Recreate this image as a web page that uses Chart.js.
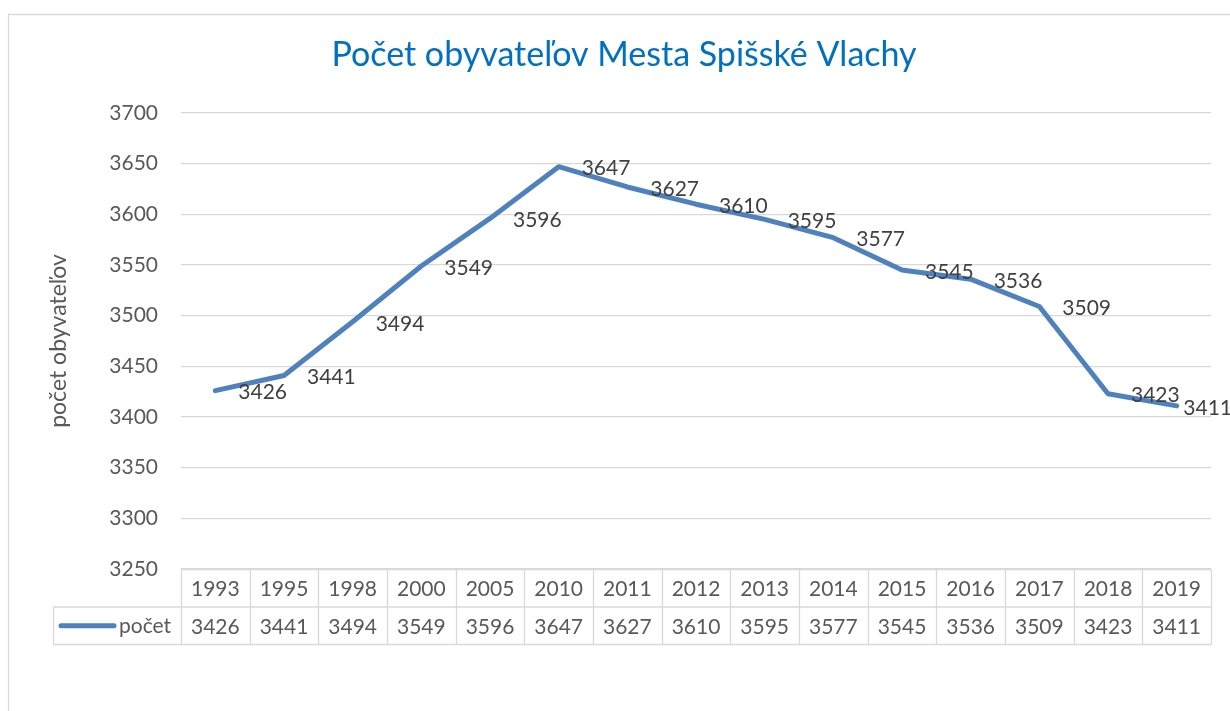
<!DOCTYPE html>
<html>
<head>
<meta charset="utf-8">
<script src="https://cdn.jsdelivr.net/npm/chart.js@4.4.1/dist/chart.umd.min.js"></script>
<style>
html,body{margin:0;padding:0;background:#fff;}
#wrap{width:1230px;height:711px;position:relative;}
</style>
</head>
<body>
<div id="wrap"><canvas id="c" width="1230" height="711"></canvas></div>
<script>
const chartTitle = 'Počet obyvateľov Mesta Spišské Vlachy';
const axisTitle = 'počet obyvateľov';
const seriesName = 'počet';
const years = ['1993','1995','1998','2000','2005','2010','2011','2012','2013','2014','2015','2016','2017','2018','2019'];
const values = [3426,3441,3494,3549,3596,3647,3627,3610,3595,3577,3545,3536,3509,3423,3411];
const yMin = 3250, yMax = 3700, yStep = 50;

const FONT = 'Lato';
const LINE_COLOR = '#4F81BD';
const GRID = '#D9D9D9';

const frame = {
  id: 'frame',
  beforeDraw(chart) {
    const ctx = chart.ctx;
    ctx.save();
    ctx.strokeStyle = GRID;
    ctx.lineWidth = 1.3;
    ctx.beginPath();
    ctx.moveTo(8.5, 711);
    ctx.lineTo(8.5, 14.5);
    ctx.lineTo(1230, 14.5);
    ctx.stroke();
    ctx.restore();
  }
};

const dataLabels = {
  id: 'dataLabels',
  afterDatasetsDraw(chart) {
    const ctx = chart.ctx;
    const meta = chart.getDatasetMeta(0);
    ctx.save();
    ctx.font = '21px ' + FONT;
    ctx.fillStyle = '#404040';
    ctx.textAlign = 'left';
    ctx.textBaseline = 'middle';
    meta.data.forEach((pt, i) => {
      const t = String(values[i]);
      const tw = ctx.measureText(t).width;
      let x = pt.x + 23;
      if (x + tw > chart.width + 2) x = chart.width + 2 - tw;
      ctx.fillText(t, x, pt.y + 2);
    });
    ctx.restore();
  }
};

const dataTable = {
  id: 'dataTable',
  afterDraw(chart) {
    const ctx = chart.ctx;
    const xs = chart.scales.x;
    const area = chart.chartArea;
    const n = years.length;
    const w = (area.right - area.left) / n;
    const top = area.bottom + 0.5;
    const rh = 37.5;
    const legLeft = area.left - 128;
    ctx.save();
    ctx.strokeStyle = GRID;
    ctx.lineWidth = 1.3;
    ctx.beginPath();
    ctx.moveTo(area.left, top); ctx.lineTo(area.right, top);
    ctx.moveTo(legLeft, top + rh); ctx.lineTo(area.right, top + rh);
    ctx.moveTo(legLeft, top + 2 * rh); ctx.lineTo(area.right, top + 2 * rh);
    for (let i = 0; i <= n; i++) {
      const x = Math.round(area.left + i * w) + 0.5;
      ctx.moveTo(x, top); ctx.lineTo(x, top + 2 * rh);
    }
    ctx.moveTo(legLeft + 0.5, top + rh); ctx.lineTo(legLeft + 0.5, top + 2 * rh);
    ctx.stroke();

    ctx.font = '21px ' + FONT;
    ctx.fillStyle = '#595959';
    ctx.textAlign = 'center';
    ctx.textBaseline = 'middle';
    for (let i = 0; i < n; i++) {
      const cx = xs.getPixelForValue(i);
      ctx.fillText(years[i], cx, top + rh / 2 + 1);
      ctx.fillText(String(values[i]), cx, top + rh * 1.5 + 1);
    }
    ctx.strokeStyle = LINE_COLOR;
    ctx.lineWidth = 5;
    ctx.lineCap = 'round';
    ctx.beginPath();
    ctx.moveTo(legLeft + 8, top + rh * 1.5);
    ctx.lineTo(legLeft + 61, top + rh * 1.5);
    ctx.stroke();
    ctx.textAlign = 'left';
    ctx.fillText(seriesName, legLeft + 66, top + rh * 1.5);
    ctx.restore();
  }
};

new Chart(document.getElementById('c'), {
  type: 'line',
  data: {
    labels: years,
    datasets: [{
      label: seriesName,
      data: values,
      borderColor: LINE_COLOR,
      backgroundColor: LINE_COLOR,
      borderWidth: 5,
      borderJoinStyle: 'round',
      borderCapStyle: 'round',
      pointRadius: 0,
      tension: 0,
      yAxisID: 'y'
    }]
  },
  options: {
    responsive: false,
    animation: false,
    devicePixelRatio: 1,
    layout: { padding: { left: 18, right: 0, top: 14, bottom: 0 } },
    plugins: {
      legend: { display: false },
      tooltip: { enabled: false },
      title: {
        display: true,
        text: chartTitle,
        color: '#0070C0',
        font: { family: FONT, size: 34, weight: 'normal' },
        padding: { top: 21, bottom: 37.2 }
      }
    },
    scales: {
      x: {
        type: 'category',
        offset: true,
        ticks: { display: false },
        grid: { display: false },
        border: { display: false },
        afterFit(s) { s.height = 142; }
      },
      y: {
        type: 'linear',
        position: 'left',
        min: yMin,
        max: yMax,
        ticks: {
          stepSize: yStep,
          color: '#595959',
          font: { family: FONT, size: 21 },
          padding: 23,
          callback: (v) => String(v)
        },
        grid: { color: GRID, lineWidth: 1.3, drawTicks: false },
        border: { display: false },
        title: {
          display: true,
          text: axisTitle,
          color: '#595959',
          font: { family: FONT, size: 23 },
          padding: { top: 27, bottom: 0 }
        },
        afterFit(s) { s.width = 163; }
      },
      y2: {
        type: 'linear',
        position: 'right',
        display: true,
        ticks: { display: false },
        grid: { display: false },
        border: { display: false },
        afterFit(s) { s.width = 19; }
      }
    }
  },
  plugins: [frame, dataLabels, dataTable]
});
</script>
</body>
</html>
